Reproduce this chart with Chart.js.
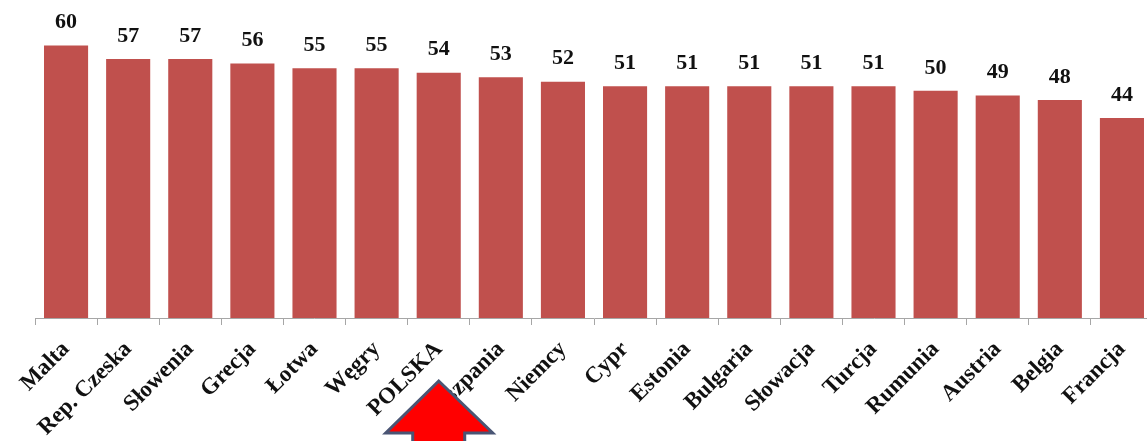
<!DOCTYPE html>
<html>
<head>
<meta charset="utf-8">
<script src="https://cdn.jsdelivr.net/npm/chart.js@4.4.0/dist/chart.umd.min.js"></script>
<style>
  body { margin: 0; background: #fff; overflow: hidden; }
  #wrap { position: relative; width: 1153px; height: 441px; }
</style>
</head>
<body>
<div id="wrap"><canvas id="myChart"></canvas></div>
<script>
const countries = ['Malta', 'Rep. Czeska', 'Słowenia', 'Grecja', 'Łotwa', 'Węgry', 'POLSKA', 'Hiszpania',
  'Niemcy', 'Cypr', 'Estonia', 'Bulgaria', 'Słowacja', 'Turcja', 'Rumunia', 'Austria', 'Belgia', 'Francja'];
const values = [60, 57, 57, 56, 55, 55, 54, 53, 52, 51, 51, 51, 51, 51, 50, 49, 48, 44];
const highlight = 'POLSKA';

const serif = '"Liberation Serif", "Times New Roman", serif';

// numbers above the bars
const valueLabels = {
  id: 'valueLabels',
  afterDatasetsDraw(chart) {
    const c = chart.ctx;
    const meta = chart.getDatasetMeta(0);
    c.save();
    c.font = 'bold 22px ' + serif;
    c.fillStyle = '#111';
    c.textAlign = 'center';
    c.textBaseline = 'bottom';
    meta.data.forEach((bar, i) => {
      c.fillText(values[i], bar.x, bar.y - 12);
    });
    c.restore();
  }
};

// red arrow pointing at POLSKA
const arrow = {
  id: 'arrow',
  afterDraw(chart) {
    const c = chart.ctx;
    const x = chart.scales.x.getPixelForValue(countries.indexOf(highlight));
    const tip = 381, base = 433;
    c.save();
    c.beginPath();
    c.moveTo(x, tip);
    c.lineTo(x + 54, base);
    c.lineTo(x + 26, base);
    c.lineTo(x + 26, 450);
    c.lineTo(x - 26, 450);
    c.lineTo(x - 26, base);
    c.lineTo(x - 53, base);
    c.closePath();
    c.fillStyle = '#ff0000';
    c.fill();
    c.lineWidth = 3;
    c.strokeStyle = '#4a5574';
    c.stroke();
    c.restore();
  }
};

new Chart(document.getElementById('myChart'), {
  type: 'bar',
  data: {
    labels: countries,
    datasets: [{
      data: values,
      backgroundColor: '#c0504d',
      borderWidth: 0,
      barPercentage: 0.71,
      categoryPercentage: 1
    }]
  },
  options: {
    responsive: true,
    maintainAspectRatio: false,
    animation: false,
    layout: { padding: { left: 35, right: 0, top: 0, bottom: 0 } },
    plugins: {
      legend: { display: false },
      tooltip: { enabled: false }
    },
    scales: {
      y: {
        display: false,
        min: 0,
        max: 70
      },
      x: {
        afterFit: (scale) => { scale.height = 123; },
        border: { color: '#a6a6a6', width: 1 },
        grid: {
          drawOnChartArea: false,
          color: '#a6a6a6',
          tickLength: 7
        },
        ticks: {
          minRotation: 45,
          maxRotation: 45,
          padding: 11,
          color: '#111',
          font: { family: serif, size: 23, weight: 'bold' }
        }
      }
    }
  },
  plugins: [valueLabels, arrow]
});
</script>
</body>
</html>
